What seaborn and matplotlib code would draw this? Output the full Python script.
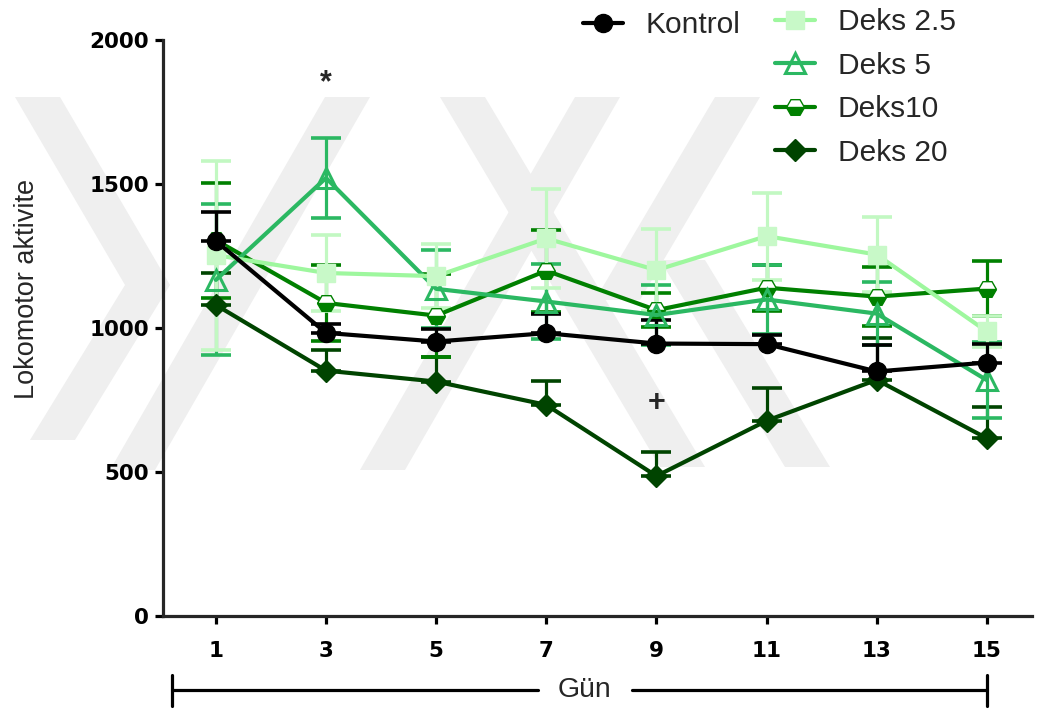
import numpy as np
import pandas as pd
import seaborn as sns
import matplotlib.pyplot as plt
from matplotlib.lines import Line2D
from matplotlib.patches import Polygon
import matplotlib.transforms as mtransforms

# data (mean and SEM per day)
days = [1, 3, 5, 7, 9, 11, 13, 15]
kontrol = [1302, 983, 953, 982, 946, 944, 849, 880]
kontrol_sem = [101, 30, 45, 65, 82, 30, 92, 64]
deks25 = [1253, 1191, 1180, 1311, 1201, 1319, 1255, 988]
deks25_sem = [328, 132, 112, 171, 143, 151, 130, 55]
deks5 = [1167, 1521, 1136, 1092, 1045, 1099, 1050, 819]
deks5_sem = [262, 140, 135, 130, 104, 120, 110, 132]
deks10 = [1305, 1087, 1043, 1199, 1062, 1140, 1109, 1137]
deks10_sem = [200, 132, 145, 143, 60, 80, 102, 95]
deks20 = [1080, 852, 814, 733, 486, 678, 820, 617]
deks20_sem = [110, 71, 86, 82, 83, 113, 145, 107]

labels = ["Kontrol", "Deks 2.5", "Deks 5", "Deks10", "Deks 20"]
yticks = [0, 500, 1000, 1500, 2000]

sns.set_style("ticks")
plt.rcParams['font.family'] = ['Liberation Sans', 'DejaVu Sans']

W, H = 1045, 710
fig = plt.figure(figsize=(W / 100, H / 100), dpi=100)

# faint diagonal watermark in the background (pixel coords, y from top)
def band(x0, y0, x1, y1, w=45):
    pts = [(x0, y0), (x0 + w, y0), (x1 + w, y1), (x1, y1)]
    return [(x / W, 1 - y / H) for x, y in pts]

bands = [
    (15, 97, 125, 285), (30, 440, 125, 285),
    (110, 470, 325, 97), (360, 470, 575, 97),
    (715, 97, 595, 300), (440, 97, 660, 467),
    (660, 260, 785, 467),
]
for b in bands:
    fig.patches.append(Polygon(band(*b), closed=True, transform=fig.transFigure,
                               facecolor="#efefef", edgecolor="none", zorder=-1))

ax = fig.add_axes([163 / W, 1 - 616 / H, 869 / W, 576 / H])
ax.set_facecolor("none")

series = [
    # name, mean, sem, line colour, marker, marker face, ms, lower bar shown
    ("Deks 20", deks20, deks20_sem, "#004400", "D", "#004400", 11, False),
    ("Deks10", deks10, deks10_sem, "#008000", "H", "#008000", 13, True),
    ("Deks 5", deks5, deks5_sem, "#2bb862", "^", "none", 15, True),
    ("Deks 2.5", deks25, deks25_sem, "#9ef79e", "s", "#c8f9c8", 13, True),
    ("Kontrol", kontrol, kontrol_sem, "#000000", "o", "#000000", 13, False),
]

ecolors = {"Deks 2.5": "#c2f8c2"}
for name, mean, sem, c, m, fc, ms, both in series:
    lo = sem if both else [0] * len(sem)
    ax.errorbar(days, mean, yerr=[lo, sem], fmt="none", ecolor=ecolors.get(name, c),
                elinewidth=2.3, capsize=11, capthick=2.6, zorder=2)
    df = pd.DataFrame({"Gün": days, "val": mean})
    kw = dict(marker=m, markersize=ms, markeredgecolor=c if fc == "none" or name == "Deks10" else fc,
              markerfacecolor=fc, markeredgewidth=2.2 if fc == "none" else 1)
    if name == "Deks10":
        kw.update(fillstyle="bottom", markerfacecoloralt="white", markeredgewidth=1)
    if name == "Deks 2.5":
        kw.update(markeredgecolor="#c8f9c8")
    sns.lineplot(data=df, x="Gün", y="val", ax=ax, color=c, linewidth=3, zorder=3, **kw)

ax.set_xlim(0.04, 15.82)
ax.set_ylim(0, 2000)
ax.set_xticks(days)
ax.set_yticks(yticks)
ax.set_xticklabels([str(d) for d in days])
for sp in ["top", "right"]:
    ax.spines[sp].set_visible(False)
for sp in ["left", "bottom"]:
    ax.spines[sp].set_linewidth(2.3)
ax.tick_params(axis="both", width=2.3, length=6, direction="out", colors="black")
ax.tick_params(axis="x", pad=12)
ax.tick_params(axis="y", pad=4)
for t in ax.get_xticklabels() + ax.get_yticklabels():
    t.set_fontfamily("DejaVu Sans")
    t.set_fontweight("bold")
    t.set_fontsize(15.5)

ax.set_xlabel("")
ax.set_ylabel("Lokomotor aktivite", fontsize=19.5)
ax.yaxis.set_label_coords(-0.141, 0.568)

# significance marks
ax.text(3, 1850, "*", ha="center", va="center", fontsize=22, fontweight="bold")
ax.text(9, 740, "+", ha="center", va="center", fontsize=22, fontweight="bold")

# "Gün" bracket under the axis
tr = mtransforms.blended_transform_factory(ax.transData, ax.transAxes)
yb = -0.1285
ax.plot([0.2, 6.85], [yb, yb], color="black", lw=2.3, transform=tr, clip_on=False)
ax.plot([8.55, 15], [yb, yb], color="black", lw=2.3, transform=tr, clip_on=False)
for xe in [0.2, 15]:
    ax.plot([xe, xe], [-0.102, -0.156], color="black", lw=2.3, transform=tr, clip_on=False)
ax.text(7.7, yb, "Gün", ha="center", va="center", fontsize=20.5, transform=tr)

# legends
def handle(name):
    for n, mean, sem, c, m, fc, ms, both in series:
        if n == name:
            kw = dict(color=c, lw=3, marker=m, markersize=ms, markerfacecolor=fc,
                      markeredgecolor=c if fc == "none" or n == "Deks10" else fc,
                      markeredgewidth=2.2 if fc == "none" else 1)
            if n == "Deks10":
                kw.update(fillstyle="bottom", markerfacecoloralt="white")
            return Line2D([], [], **kw)

leg_kw = dict(frameon=False, fontsize=21.5, handlelength=1.35, handletextpad=0.75,
              borderpad=0, borderaxespad=0, loc="upper left", labelspacing=0.52)
fig.legend([handle("Kontrol")], ["Kontrol"], bbox_to_anchor=(583 / W, 1 - 11 / H), **leg_kw)
fig.legend([handle(n) for n in labels[1:]], labels[1:], bbox_to_anchor=(775 / W, 1 - 8 / H), **leg_kw)

fig.savefig("out.png", dpi=100)
